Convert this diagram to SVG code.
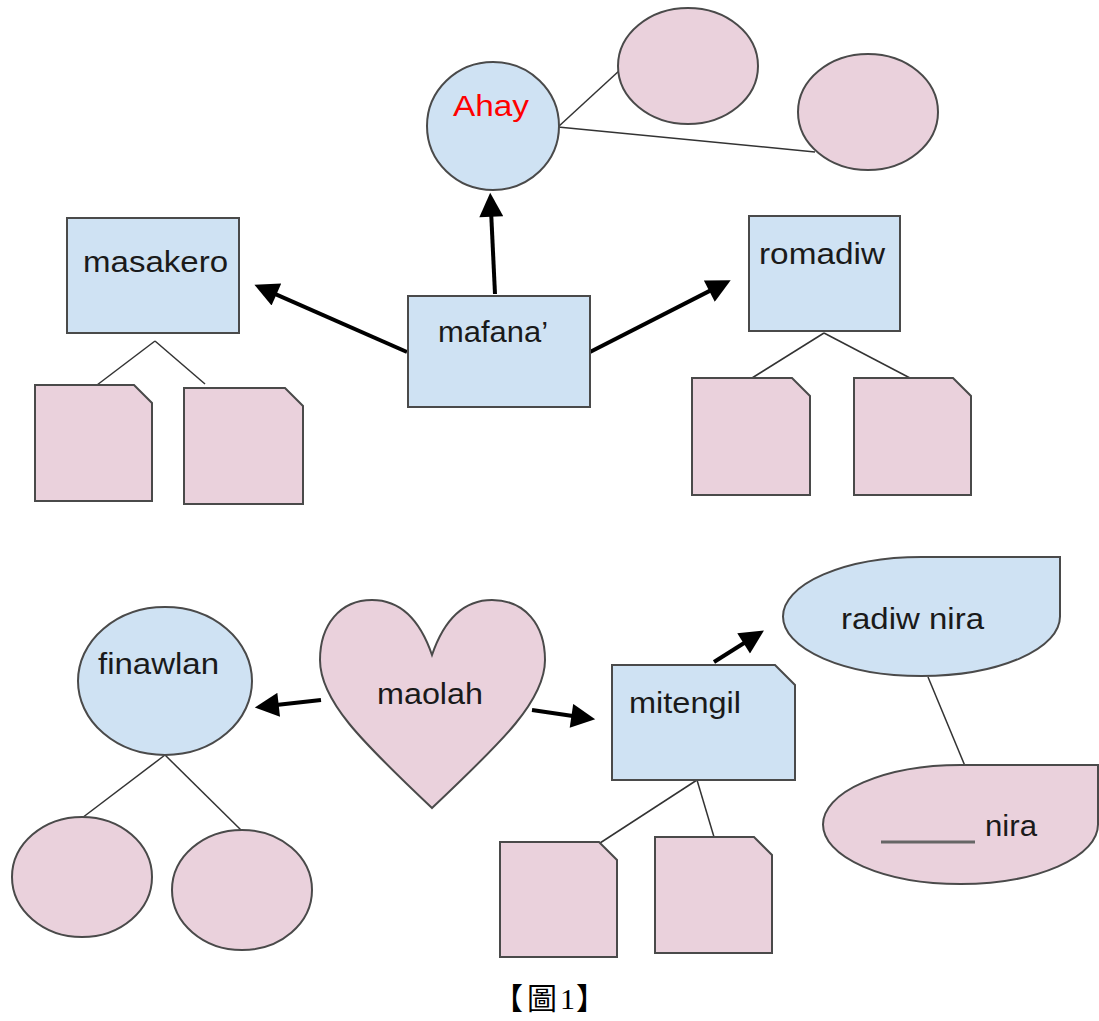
<svg xmlns="http://www.w3.org/2000/svg" width="1099" height="1021" viewBox="0 0 1099 1021">
<style>
.blue{fill:#cfe2f3;stroke:#4a4a4a;stroke-width:2}
.pink{fill:#ead1dc;stroke:#4a4a4a;stroke-width:2}
.conn{stroke:#333;stroke-width:1.5;fill:none}
.arrow{stroke:#000;stroke-width:4;fill:none;marker-end:url(#ah)}
.lbl{font-family:"Liberation Sans",Arial,sans-serif;font-size:30px;fill:#1a1a1a}
.cap{font-family:"Liberation Serif","Noto Sans CJK TC",serif;font-size:30px;fill:#000}
</style>
<defs>
<marker id="ah" viewBox="0 0 10 10" refX="2" refY="5" markerWidth="7.5" markerHeight="6" orient="auto" markerUnits="strokeWidth">
<path d="M0,0 L10,5 L0,10 Z" fill="#000"/>
</marker>
</defs>
<rect width="1099" height="1021" fill="#fff"/>
<g id="connectors">
<line class="conn" x1="558" y1="127" x2="620" y2="70"/>
<line class="conn" x1="558" y1="127" x2="815" y2="152"/>
<line class="conn" x1="155" y1="341" x2="97" y2="385"/>
<line class="conn" x1="155" y1="341" x2="205" y2="384"/>
<line class="conn" x1="824" y1="333" x2="752" y2="378"/>
<line class="conn" x1="824" y1="333" x2="910" y2="378"/>
<line class="conn" x1="165" y1="755" x2="82" y2="818"/>
<line class="conn" x1="165" y1="755" x2="242" y2="831"/>
<line class="conn" x1="697" y1="780" x2="600" y2="843"/>
<line class="conn" x1="697" y1="780" x2="714" y2="837"/>
<line class="conn" x1="928" y1="677" x2="965" y2="766"/>
<line class="arrow" x1="495" y1="294" x2="491.1" y2="212"/>
<line class="arrow" x1="407" y1="352" x2="272" y2="292.6"/>
<line class="arrow" x1="590" y1="352" x2="713.6" y2="288.9"/>
<line class="arrow" x1="321" y1="700" x2="273.9" y2="705.3"/>
<line class="arrow" x1="532" y1="710" x2="576.2" y2="716.5"/>
<line class="arrow" x1="714" y1="662" x2="747.7" y2="640.8"/>
</g>
<g id="ahay"><ellipse class="blue" cx="493" cy="126" rx="66" ry="64"/><text class="lbl" x="453" y="116" style="fill:#ff0000" textLength="76" lengthAdjust="spacingAndGlyphs">Ahay</text></g>
<g id="ahay-child-1"><ellipse class="pink" cx="688" cy="66" rx="70" ry="58"/></g>
<g id="ahay-child-2"><ellipse class="pink" cx="868" cy="112" rx="70" ry="58"/></g>
<g id="masakero"><rect class="blue" x="67" y="218" width="172" height="115"/><text class="lbl" x="83" y="272" textLength="145" lengthAdjust="spacingAndGlyphs">masakero</text></g>
<g id="mafana"><rect class="blue" x="408" y="296" width="182" height="111"/><text class="lbl" x="438" y="342" textLength="110" lengthAdjust="spacingAndGlyphs">mafana’</text></g>
<g id="romadiw"><rect class="blue" x="749" y="216" width="151" height="115"/><text class="lbl" x="759" y="264" textLength="126" lengthAdjust="spacingAndGlyphs">romadiw</text></g>
<g id="masakero-doc-1"><path class="pink" d="M35,385 H134 L152,403 V501 H35 Z"/></g>
<g id="masakero-doc-2"><path class="pink" d="M184,388 H285 L303,406 V504 H184 Z"/></g>
<g id="romadiw-doc-1"><path class="pink" d="M692,378 H792 L810,396 V495 H692 Z"/></g>
<g id="romadiw-doc-2"><path class="pink" d="M854,378 H953 L971,396 V495 H854 Z"/></g>
<g id="finawlan"><ellipse class="blue" cx="165" cy="681" rx="87" ry="74"/><text class="lbl" x="98" y="674" textLength="121" lengthAdjust="spacingAndGlyphs">finawlan</text></g>
<g id="finawlan-child-1"><ellipse class="pink" cx="82" cy="877" rx="70" ry="60"/></g>
<g id="finawlan-child-2"><ellipse class="pink" cx="242" cy="890" rx="70" ry="60"/></g>
<g id="maolah"><path class="pink" d="M432,655 C420,620 400,600 372,600 C340,600 320,625 320,660 C320,700 360,740 432,808 C504,740 545,700 545,660 C545,625 525,600 492,600 C464,600 444,620 432,655 Z"/><text class="lbl" x="377" y="704" textLength="106" lengthAdjust="spacingAndGlyphs">maolah</text></g>
<g id="mitengil"><path class="blue" d="M612,665 H775 L795,685 V780 H612 Z"/><text class="lbl" x="629" y="713" textLength="112" lengthAdjust="spacingAndGlyphs">mitengil</text></g>
<g id="mitengil-doc-1"><path class="pink" d="M500,842 H599 L617,860 V957 H500 Z"/></g>
<g id="mitengil-doc-2"><path class="pink" d="M655,837 H754 L772,855 V953 H655 Z"/></g>
<g id="radiw-nira"><path class="blue" d="M921.5,557 H1060 V616.5 A138.5,59.5 0 0 1 921.5,676 A138.5,59.5 0 0 1 783,616.5 A138.5,59.5 0 0 1 921.5,557 Z"/><text class="lbl" x="841" y="629" textLength="143" lengthAdjust="spacingAndGlyphs">radiw nira</text></g>
<g id="nira"><path class="pink" d="M960.5,765 H1098 V824.5 A137.5,59.5 0 0 1 960.5,884 A137.5,59.5 0 0 1 823,824.5 A137.5,59.5 0 0 1 960.5,765 Z"/><line x1="881" y1="842" x2="975" y2="842" stroke="#666" stroke-width="3"/><text class="lbl" x="985" y="836" textLength="52" lengthAdjust="spacingAndGlyphs">nira</text></g>
<g id="caption"><text class="cap" y="1009"><tspan x="493">【</tspan><tspan x="527">圖</tspan><tspan x="560">1</tspan><tspan x="576">】</tspan></text></g>
</svg>
